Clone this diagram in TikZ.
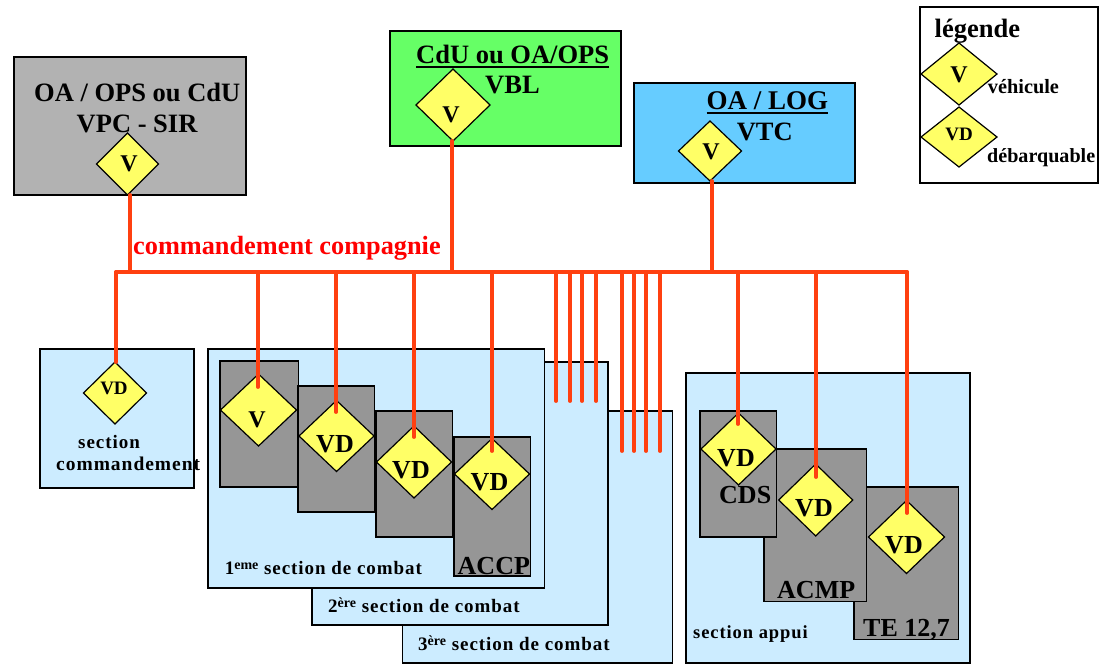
\documentclass[tikz,border=0pt]{standalone}
\usepackage{fontspec}
\setmainfont{Liberation Serif}
\newfontfamily\spacedfont[LetterSpace=5]{Liberation Serif}
\usetikzlibrary{shapes.geometric}
\definecolor{ChefGray}{RGB}{178, 178, 178}
\definecolor{ChefGreen}{RGB}{102, 255, 102}
\definecolor{ChefBlue}{RGB}{102, 204, 255}
\definecolor{SectionBlue}{RGB}{204, 236, 255}
\definecolor{UnitGray}{RGB}{150, 150, 150}
\definecolor{VehicleYellow}{RGB}{255, 255, 102}
\definecolor{WireRed}{RGB}{255, 64, 16}
\newcommand{\exposant}[1]{\raisebox{5pt}{\rmfamily\fontsize{14}{14}\selectfont #1}}
\newcommand{\souligne}[1]{\vtop{\hbox{#1}\kern 2.4pt\hrule height 2.7pt}}
\tikzset{
  box/.style={rectangle, draw=black, fill=#1, line width=1.4pt, inner sep=0pt,
              outer sep=0pt, anchor=north west},
  veh/.style={diamond, draw=black, fill=VehicleYellow, line width=1.2pt,
              inner sep=0pt, outer sep=0pt},
  wire/.style={draw=WireRed, line width=3.8pt, line cap=round},
  txt/.style={font=\fontsize{#1}{#1}\selectfont\bfseries, inner sep=0pt, anchor=base west},
  ctxt/.style={font=\fontsize{#1}{#1}\selectfont\bfseries, inner sep=0pt, anchor=base},
  sectxt/.style={font=\fontsize{#1}{#1}\selectfont\bfseries\spacedfont, inner sep=0pt, anchor=base west},
}
\begin{document}
\begin{tikzpicture}[x=1pt, y=-1pt]
  \useasboundingbox (0,0) rectangle (1099,664);

  %% COMMANDEMENT
  \node[box=ChefGray, minimum width=232pt, minimum height=138pt] (vpc) at (14,57) {};
  \node[box=ChefGreen, minimum width=231pt, minimum height=115pt] (vbl) at (390,31) {};
  \node[box=ChefBlue, minimum width=221pt, minimum height=100pt] (vtc) at (634,83) {};
  \node[veh, minimum width=62pt, minimum height=62pt] (dvpc) at (127.5,164) {};
  \node[veh, minimum width=74pt, minimum height=72pt] (dvbl) at (453,105) {};
  \node[veh, minimum width=63pt, minimum height=60pt] (dvtc) at (710,151) {};

  %% LEGENDE
  \node[box=white, minimum width=178pt, minimum height=176pt] (leg) at (920,7) {};
  \node[veh, minimum width=76pt, minimum height=62pt] (dleg1) at (959,74) {};
  \node[veh, minimum width=76pt, minimum height=60pt] (dleg2) at (959,137) {};

  %% SECTIONS
  \node[box=SectionBlue, minimum width=154pt, minimum height=139pt] (sc) at (40,349) {};
  \node[box=SectionBlue, minimum width=270pt, minimum height=252pt] (s3) at (402.5,411) {};
  \node[box=SectionBlue, minimum width=296pt, minimum height=263pt] (s2) at (312,362) {};
  \node[box=SectionBlue, minimum width=336.5pt, minimum height=239pt] (s1) at (208,349) {};
  \node[box=SectionBlue, minimum width=284pt, minimum height=290pt] (sa) at (686,373) {};

  %% GROUPES 1ere SECTION
  \node[box=UnitGray, minimum width=78.5pt, minimum height=126pt] (a1) at (220,361) {};
  \node[box=UnitGray, minimum width=76.5pt, minimum height=126pt] (a2) at (298,386) {};
  \node[box=UnitGray, minimum width=76.7pt, minimum height=126pt] (a3) at (376,411) {};
  \node[box=UnitGray, minimum width=76.6pt, minimum height=139pt] (a4) at (454,437) {};

  %% GROUPES SECTION APPUI
  \node[box=UnitGray, minimum width=104.7pt, minimum height=152.7pt] (b3) at (854,487) {};
  \node[box=UnitGray, minimum width=102.7pt, minimum height=152.7pt] (b2) at (764,449) {};
  \node[box=UnitGray, minimum width=76.7pt, minimum height=126pt] (b1) at (700,411) {};

  %% VEHICULES
  \node[veh, minimum width=63pt, minimum height=62pt] (dsc) at (115,393) {};
  \node[veh, minimum width=76pt, minimum height=72pt] (da1) at (258.5,410) {};
  \node[veh, minimum width=75pt, minimum height=71pt] (da2) at (336.5,436) {};
  \node[veh, minimum width=75pt, minimum height=72pt] (da3) at (414,462) {};
  \node[veh, minimum width=75pt, minimum height=71pt] (da4) at (492,474) {};
  \node[veh, minimum width=75pt, minimum height=72pt] (db1) at (738.5,449) {};
  \node[veh, minimum width=74pt, minimum height=72pt] (db2) at (815.7,500) {};
  \node[veh, minimum width=76pt, minimum height=73pt] (db3) at (906.5,537) {};

  %% BUS
  \coordinate (busl) at (116,272);
  \coordinate (busr) at (907,272);
  \draw[wire] (busl) -- (busr);

  \coordinate (wvpc) at (130,195);
  \coordinate (wvbl) at (452,141);
  \coordinate (wvtc) at (712,181);
  \draw[wire] (wvpc) -- (wvpc |- busl);
  \draw[wire] (wvbl) -- (wvbl |- busl);
  \draw[wire] (wvtc) -- (wvtc |- busl);

  \coordinate (wsc) at (116,362);
  \draw[wire] (busl) -- (wsc);

  \coordinate (wa1) at (258,387);
  \coordinate (wa2) at (336,412);
  \coordinate (wa3) at (414,437);
  \coordinate (wa4) at (492,451);
  \draw[wire] (wa1 |- busl) -- (wa1);
  \draw[wire] (wa2 |- busl) -- (wa2);
  \draw[wire] (wa3 |- busl) -- (wa3);
  \draw[wire] (wa4 |- busl) -- (wa4);

  \coordinate (wt1) at (556,401);
  \coordinate (wt2) at (570,401);
  \coordinate (wt3) at (582,401);
  \coordinate (wt4) at (596,401);
  \draw[wire] (wt1 |- busl) -- (wt1);
  \draw[wire] (wt2 |- busl) -- (wt2);
  \draw[wire] (wt3 |- busl) -- (wt3);
  \draw[wire] (wt4 |- busl) -- (wt4);

  \coordinate (wu1) at (622,451);
  \coordinate (wu2) at (634,451);
  \coordinate (wu3) at (646,451);
  \coordinate (wu4) at (660,451);
  \draw[wire] (wu1 |- busl) -- (wu1);
  \draw[wire] (wu2 |- busl) -- (wu2);
  \draw[wire] (wu3 |- busl) -- (wu3);
  \draw[wire] (wu4 |- busl) -- (wu4);

  \coordinate (wb1) at (738,424);
  \coordinate (wb2) at (816,477);
  \coordinate (wb3) at (907,513);
  \draw[wire] (wb1 |- busl) -- (wb1);
  \draw[wire] (wb2 |- busl) -- (wb2);
  \draw[wire] (wb3 |- busl) -- (wb3);

  %% Titres
  \node[txt=26.5] (tvpc1) at (34,101) {OA / OPS ou CdU};
  \node[txt=26.5] (tvpc2) at (76.5,132) {VPC - SIR};
  \node[txt=26.5] (tvbl1) at (416,63) {\souligne{CdU ou OA/OPS}};
  \node[txt=26.5] (tvbl2) at (485,93) {VBL};
  \node[txt=27] (tvtc1) at (706.5,109) {\souligne{OA / LOG}};
  \node[txt=26.5] (tvtc2) at (736.6,140) {VTC};
  \node[txt=26.3, text=red] (tcmd) at (133,254) {commandement compagnie};

  %% Legende
  \node[txt=26.5] (tleg) at (934.5,37) {légende};
  \node[txt=20.3] (tleg1) at (987.7,93) {véhicule};
  \node[txt=20.1] (tleg2) at (987,162.7) {débarquable};

  %% Lettres des vehicules
  \node[ctxt=24] (lvpc) at (129,171.7) {V};
  \node[ctxt=24] (lvbl) at (451,122.7) {V};
  \node[ctxt=24] (lvtc) at (711,159) {V};
  \node[ctxt=24] (lleg1) at (959,82) {V};
  \node[ctxt=19] (lleg2) at (959,140) {VD};
  \node[ctxt=19] (lsc) at (114,394) {VD};
  \node[ctxt=24] (la1) at (257,427) {V};
  \node[ctxt=26] (la2) at (335,452) {VD};
  \node[ctxt=26] (la3) at (411,478) {VD};
  \node[ctxt=26] (la4) at (489.5,490) {VD};
  \node[ctxt=26] (lb1) at (736,466) {VD};
  \node[ctxt=26] (lb2) at (814,516) {VD};
  \node[ctxt=26] (lb3) at (904,553) {VD};

  %% Noms
  \node[sectxt=19] (nsc1) at (78,448) {section};
  \node[sectxt=19.5] (nsc2) at (56,470) {commandement};
  \node[sectxt=19] (ns1) at (224.6,574) {1\exposant{eme} section de combat};
  \node[sectxt=19] (ns2) at (328,612) {2\exposant{ère} section de combat};
  \node[sectxt=19] (ns3) at (418,650) {3\exposant{ère} section de combat};
  \node[sectxt=18.5] (nsa) at (693,638) {section appui};
  \node[txt=26] (naccp) at (457.5,574) {ACCP};
  \node[txt=26] (ncds) at (719,503) {CDS};
  \node[txt=26] (nacmp) at (777,598) {ACMP};
  \node[txt=26] (nte) at (863,636) {TE 12,7};

\end{tikzpicture}
\end{document}
